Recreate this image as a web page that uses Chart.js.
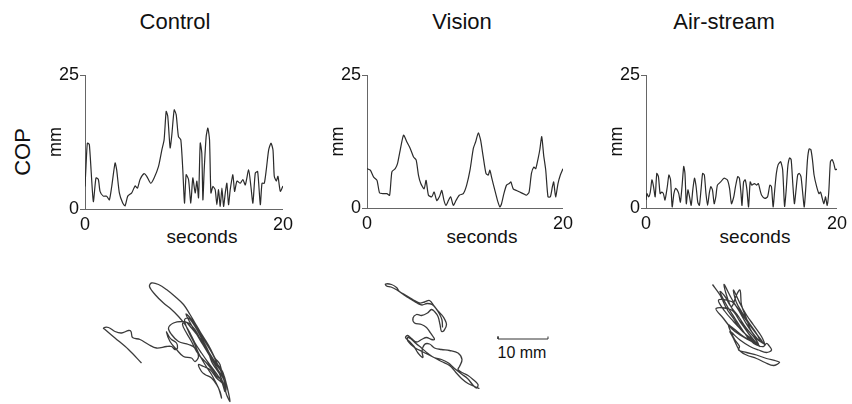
<!DOCTYPE html>
<html lang="en">
  <head>
    <meta charset="UTF-8">
    <title>COP sway</title>
    <script src="https://cdn.jsdelivr.net/npm/chart.js"></script>
    <style>
      body {
        margin: 0;
        background: #fff;
        color: #111;
        font-family: "Liberation Sans", Arial, sans-serif;
      }
      #fig { position: relative; width: 852px; height: 404px; overflow: hidden; }
      #fig canvas, .lbl { position: absolute; }
      .lbl { white-space: nowrap; text-align: center; line-height: 1; }
      .title { font-size: 22px; width: 140px; top: 11px; }
      .secs { font-size: 19px; width: 100px; top: 227px; }
    </style>
  </head>
  <body>
    <div id="fig">
      <div class="lbl title" style="left:105px">Control</div>
      <div class="lbl title" style="left:392px">Vision</div>
      <div class="lbl title" style="left:654px">Air-stream</div>
      <div class="lbl" style="left:-7px;top:141px;width:60px;font-size:22px;transform:rotate(-90deg)">COP</div>
      <div class="lbl secs" style="left:152px">seconds</div>
      <div class="lbl secs" style="left:432px">seconds</div>
      <div class="lbl secs" style="left:705px">seconds</div>
      <div class="lbl" style="left:482px;top:345px;width:80px;font-size:16px">10 mm</div>

      <canvas id="trace1" width="253" height="189" style="left:45px;top:60px"></canvas>
      <canvas id="trace2" width="251" height="188" style="left:327px;top:60px"></canvas>
      <canvas id="trace3" width="246" height="188" style="left:606px;top:60px"></canvas>
      <canvas id="path1" width="140" height="126" style="left:95px;top:278px"></canvas>
      <canvas id="path2" width="180" height="112" style="left:378px;top:278px"></canvas>
      <canvas id="path3" width="90" height="100" style="left:700px;top:275px"></canvas>
    </div>

    <script>
      // axis ticks
      const xTicks = [0, 20];
      const yTicks = [0, 25];

      // COP excursion (mm) against time (s)
      const ctrlT = [0,0.1,0.24,0.44,0.84,1.11,1.35,1.52,1.85,2.19,2.46,2.7,3.04,3.2,3.47,3.81,4.05,4.32,4.72,5.06,5.3,5.56,5.97,6.24,6.64,6.98,7.42,7.76,7.99,8.2,8.36,8.6,8.77,9.01,9.21,9.44,9.68,9.88,10.05,10.22,10.46,10.69,10.89,11.13,11.3,11.47,11.64,11.8,11.91,12.04,12.24,12.41,12.58,12.72,12.92,13.15,13.32,13.49,13.66,13.83,14,14.17,14.33,14.5,14.67,14.94,15.11,15.35,15.68,15.95,16.19,16.53,16.76,16.96,17.2,17.44,17.71,17.88,18.11,18.31,18.55,18.79,18.99,19.12,19.33,19.49,19.73,20];
      const ctrlV = [4.2,7.9,12.3,12.0,1.4,5.8,5.5,3.3,2.4,2.4,1.7,4.2,8.6,7.3,3.0,1.1,0.6,2.4,3.0,4.3,3.9,5.5,6.6,6.1,4.8,5.8,7.9,11.0,12.9,18.2,17.3,11.4,13.8,18.5,17.6,13.5,12.9,7.3,1.1,6.4,5.5,1.1,5.8,3.0,5.2,2.1,12.3,10.4,1.7,7.3,13.5,15.1,12.9,3.0,4.2,3.6,0.8,3.6,0.5,3.9,0.5,3.0,4.8,0.8,3.6,6.4,3.3,5.2,4.8,5.5,4.5,7.3,4.2,1.1,6.7,7.0,0.8,4.8,4.8,7.3,11.0,12.3,11.0,6.1,5.2,6.1,3.3,4.3];

      const visT = [0,0.34,0.68,1.02,1.29,1.69,2.03,2.31,2.54,2.88,3.12,3.39,3.73,4.07,4.41,4.75,5.02,5.25,5.49,5.83,6.03,6.27,6.61,6.85,7.12,7.39,7.63,7.86,8.07,8.31,8.54,8.81,9.08,9.42,9.83,10.17,10.51,10.85,11.08,11.36,11.59,11.86,12.14,12.37,12.54,12.71,13.05,13.32,13.56,13.73,13.97,14.24,14.51,14.68,14.92,15.25,15.59,15.93,16.27,16.54,16.78,17.02,17.22,17.46,17.63,17.83,18.03,18.24,18.47,18.71,18.92,19.05,19.25,19.49,19.73,20];
      const visV = [7.4,7.1,5.8,5.2,2.8,2.7,2.7,2.4,6.8,7.4,8.4,10.9,13.7,12.4,11.2,9.6,9.0,6.2,4.6,3.6,5.2,2.4,2.1,3.0,1.4,2.1,3.3,1.4,0.5,1.4,2.1,0.5,1.4,2.4,2.7,4.3,7.1,11.2,12.4,14.1,12.8,9.6,6.5,6.2,7.1,5.8,3.3,1.4,0.2,0.8,2.7,4.3,4.6,4.9,3.6,3.3,3.0,2.7,2.4,3.0,6.5,7.7,7.4,9.3,10.9,13.4,9.9,7.1,2.1,2.1,4.0,4.9,2.1,4.6,6.2,7.4];

      const airT = [0,0.1,0.27,0.45,0.62,0.79,0.96,1.13,1.3,1.48,1.65,1.82,1.99,2.23,2.4,2.57,2.74,2.92,3.09,3.26,3.43,3.6,3.77,3.95,4.08,4.22,4.39,4.56,4.73,4.9,5.08,5.25,5.42,5.59,5.76,5.93,6.11,6.28,6.45,6.62,6.79,6.96,7.14,7.31,7.48,7.82,8.16,8.51,8.75,8.95,9.19,9.37,9.61,9.78,9.95,10.05,10.22,10.39,10.57,10.74,10.91,11.08,11.36,11.6,11.77,11.94,12.11,12.45,12.73,12.97,13.14,13.31,13.48,13.65,13.83,14.1,14.31,14.51,14.68,14.85,15.03,15.2,15.37,15.54,15.71,15.88,16.05,16.23,16.4,16.57,16.74,16.91,17.08,17.26,17.43,17.6,17.87,18.11,18.28,18.46,18.63,18.8,18.97,19.14,19.31,19.49,19.66,19.83,20];
      const airV = [1.5,2.7,2.1,3.0,5.3,4.0,2.1,6.5,5.9,2.7,3.0,2.7,1.5,4.0,6.2,5.3,0.2,2.7,3.7,3.4,2.7,1.1,4.0,7.8,6.5,0.8,3.4,2.1,0.5,3.4,5.6,4.0,1.1,0.5,3.4,6.5,6.2,2.7,0.5,2.7,4.0,3.4,0.8,2.1,4.3,4.9,5.6,5.3,3.7,0.8,2.1,4.0,5.9,5.6,2.7,0.5,4.9,5.3,3.4,0.2,4.9,4.3,4.6,4.3,4.6,3.4,2.4,1.8,2.1,4.3,4.0,0.2,3.4,6.5,8.1,8.7,7.2,0.3,3.4,7.8,9.4,9.1,4.6,0.8,3.4,6.2,6.5,5.9,3.0,0.2,4.0,9.1,11.1,11.0,9.1,6.2,4.0,2.7,3.0,1.8,0.8,2.1,0.5,3.0,8.7,9.1,8.4,7.2,7.3];

      // COP trajectories in the horizontal plane (mm)
      const ctrlPathX = [9.3,6.7,4.0,2.0,1.7,2.7,4.0,5.3,6.7,7.2,7.5,9.0,10.7,12.3,14.3,15.3,16.0,16.5,16.3,15.3,14.8,14.3,15.0,16.3,17.7,19.3,20.0,20.7,20.0,18.7,16.7,15.3,14.7,15.7,17.3,18.7,20.0,21.3,22.7,23.7,24.7,25.7,26.0,25.3,24.0,22.7,21.3,20.0,19.0,18.0,16.7,15.3,13.7,12.0,10.9,11.3,12.7,14.3,16.0,17.7,19.0,20.0,21.0,22.0,23.0,24.0,25.0,25.3,24.7,23.7,22.3,21.3,20.3,19.3,18.3,17.5,18.0,19.3,20.7,22.0,23.0,24.0,25.7,26.3,26.7,27.0,26.3,25.7,24.3,23.0,21.7,20.7,21.3,22.0,23.3,24.3,25.0,25.3,24.7,23.3,22.0,20.7,19.7,18.7,17.9,18.7,20.0,21.3,22.5,23.3,24.1,24.8,25.5,26.2,25.8,24.5,23.0,21.5,20.3,19.0,18.2,19.2,20.5,22.0,23.5,24.5,25.5,26.0];
      const ctrlPathY = [8.2,10.9,13.2,14.9,15.2,15.3,14.5,14.2,14.7,14.5,13.3,12.9,11.9,11.2,11.5,11.5,10.9,11.2,12.2,12.9,13.5,14.4,12.5,10.9,9.5,9.2,8.5,9.5,11.2,11.9,12.5,13.9,15.2,16.2,16.5,16.2,14.9,12.5,10.5,8.9,7.5,5.2,2.5,4.5,6.5,8.2,10.2,12.2,14.2,15.9,17.5,18.9,20.2,21.9,23.5,24.2,23.9,22.9,21.5,19.9,17.9,16.2,14.5,12.9,11.2,9.2,7.9,5.9,5.2,6.5,8.2,9.2,10.5,12.5,14.2,15.9,16.5,15.2,13.5,11.9,9.9,8.2,5.9,3.9,2.2,0.5,1.9,3.9,5.2,6.9,7.5,7.9,6.5,5.9,5.2,3.9,2.5,1.2,3.2,5.9,7.9,10.2,12.5,14.5,16.8,17.2,15.5,13.2,10.9,8.5,7.2,6.2,4.5,2.8,4.8,7.0,9.5,12.0,14.0,16.3,18.0,17.0,15.0,12.5,10.0,8.0,6.5,5.0];

      const visPathX = [12.9,12.8,12.3,11.6,10.8,9.8,8.8,7.8,6.8,5.8,4.8,3.8,2.6,1.7,1.5,2.7,3.7,4.3,5.3,6.3,7.3,8.3,9.3,10.3,11.3,12.1,13.0,13.7,13.2,12.7,12.4,12.0,11.3,10.7,9.9,8.7,7.7,7.0,7.3,8.7,9.7,10.3,11.0,11.3,10.7,9.7,8.7,7.7,6.7,5.9,5.5,6.3,7.2,8.0,9.0,8.8,9.3,10.3,11.3,12.7,14.3,16.0,16.8,16.3,16.0,17.0,18.0,19.0,20.0,19.7,18.9,17.9,16.7,15.3,14.1,12.7,11.2,10.0,8.7,7.6,6.5,5.9,6.1,7.3,9.0,10.8,12.7,14.3,15.5,16.7,18.0,19.3,20.3];
      const visPathY = [12.5,14.0,15.2,16.3,17.1,17.3,17.0,17.4,18.0,18.6,19.3,20.0,20.6,20.8,21.2,21.1,20.5,19.7,19.1,18.5,17.9,17.4,17.6,17.9,16.7,15.7,14.7,13.1,11.9,11.7,13.1,14.7,15.7,16.1,15.4,14.9,15.1,14.4,13.4,13.1,12.5,11.7,10.7,10.1,10.1,10.5,10.1,9.6,10.3,10.9,10.5,9.7,8.7,7.4,6.5,7.7,9.1,9.2,8.4,8.1,7.9,7.4,6.1,4.7,4.1,3.4,2.9,2.1,1.1,0.4,1.1,2.3,3.2,4.3,5.4,6.1,6.5,7.3,8.4,9.3,10.3,10.5,9.6,8.5,7.6,6.7,5.7,4.9,3.6,2.3,1.3,0.7,0.3];

      const airPathX = [2.5,4.0,5.3,6.7,8.0,9.3,10.7,11.7,11.0,9.3,7.7,6.0,4.8,6.3,7.7,9.0,10.3,12.0,11.3,9.9,8.3,7.2,6.7,8.0,9.3,10.7,12.3,13.0,12.0,10.7,9.0,7.3,6.3,3.7,5.0,6.7,8.3,10.0,11.3,9.7,8.0,6.3,3.2,4.7,6.3,8.0,10.3,12.0,10.7,8.7,6.7,5.7,6.3,7.0,7.9,7.7,9.3,11.3,13.3,15.3,15.9,14.7,13.0,11.3,9.3,8.0,7.3,6.7,6.0,8.0,10.0,11.7,13.3,14.3,13.7,13.3,12.7,11.3,10.0,8.7,7.0,5.3,4.0,5.0,6.3,7.3,8.0,8.3,9.3,10.0,11.3,12.7];
      const airPathY = [18.1,16.0,13.3,11.3,9.3,8.0,7.0,6.0,7.3,9.3,11.7,14.0,18.1,15.3,13.0,10.7,8.7,6.7,8.3,10.3,12.7,14.7,17.0,14.3,12.0,10.0,7.7,6.0,7.3,9.0,11.3,13.7,14.7,15.0,12.7,10.7,9.0,7.3,6.3,8.3,10.7,13.0,13.3,11.3,9.3,8.0,6.7,5.7,6.7,7.7,9.3,10.0,8.3,7.0,5.7,5.0,4.5,4.0,3.3,2.8,2.5,1.9,2.5,3.3,4.0,4.8,6.0,7.3,8.7,7.0,5.7,5.0,4.5,5.0,6.0,6.3,5.7,6.0,7.0,8.7,11.3,14.0,16.7,15.7,13.7,16.0,17.0,14.0,11.3,9.3,7.3,6.3];

      // 10 mm scale bar, drawn in the Vision trajectory panel
      const barX = [24, 24, 34, 34];
      const barY = [10.7, 10.2, 10.2, 10.7];

      Chart.defaults.font.family = '"Liberation Sans", Arial, sans-serif';
      Chart.defaults.color = "#111";

      function pairs(xs, ys) {
        return xs.map((x, i) => ({ x: x, y: ys[i] }));
      }

      function traceChart(id, t, v, padRight) {
        return new Chart(document.getElementById(id), {
          type: "line",
          data: {
            datasets: [{
              data: pairs(t, v),
              borderColor: "#2b2b2b",
              borderWidth: 1.2,
              pointRadius: 0,
              tension: 0.2,
            }],
          },
          options: {
            responsive: false,
            animation: false,
            layout: { padding: { top: 15, right: padRight, left: 0, bottom: 0 } },
            plugins: { legend: { display: false }, tooltip: { enabled: false } },
            scales: {
              x: {
                type: "linear",
                min: 0,
                max: 20,
                afterFit(s) { s.height = 40; },
                afterBuildTicks(s) { s.ticks = xTicks.map((v) => ({ value: v })); },
                grid: { display: false, drawTicks: false },
                border: { display: true, color: "#666", width: 1 },
                ticks: { padding: 5, maxRotation: 0, font: { size: 18 } },
              },
              y: {
                min: 0,
                max: 25,
                afterFit(s) { s.width = 40; },
                afterBuildTicks(s) { s.ticks = yTicks.map((v) => ({ value: v })); },
                grid: { display: true, drawOnChartArea: false, tickLength: 5, color: "#666" },
                border: { display: true, color: "#666", width: 1 },
                ticks: { padding: 1, font: { size: 18 } },
                title: { display: true, text: "mm", padding: 0, font: { size: 18 } },
              },
            },
          },
        });
      }

      function pathChart(id, xs, ys, xMax, yMax, extra) {
        const sets = [{
          data: pairs(xs, ys),
          showLine: true,
          borderColor: "rgba(25, 25, 25, 0.85)",
          borderWidth: 1.3,
          pointRadius: 0,
          tension: 0.35,
        }];
        if (extra) sets.push(extra);
        return new Chart(document.getElementById(id), {
          type: "scatter",
          data: { datasets: sets },
          options: {
            responsive: false,
            animation: false,
            layout: { padding: 0 },
            plugins: { legend: { display: false }, tooltip: { enabled: false } },
            scales: {
              x: { display: false, min: 0, max: xMax },
              y: { display: false, min: 0, max: yMax },
            },
          },
        });
      }

      traceChart("trace1", ctrlT, ctrlV, 15);
      traceChart("trace2", visT, visV, 15);
      traceChart("trace3", airT, airV, 12);

      // 5 px per mm in every trajectory panel
      pathChart("path1", ctrlPathX, ctrlPathY, 28, 25.2);
      pathChart("path2", visPathX, visPathY, 36, 22.4, {
        data: pairs(barX, barY),
        showLine: true,
        borderColor: "#333",
        borderWidth: 1,
        pointRadius: 0,
        tension: 0,
      });
      pathChart("path3", airPathX, airPathY, 18, 20);
    </script>
  </body>
</html>
